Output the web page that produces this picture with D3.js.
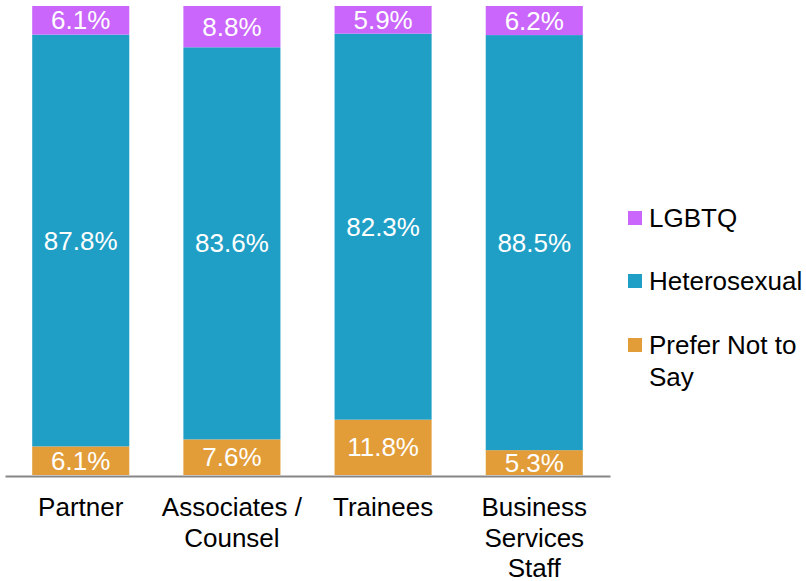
<!DOCTYPE html>
<html>
<head>
<meta charset="utf-8">
<script src="https://cdn.jsdelivr.net/npm/d3@7"></script>
<style>
    body { margin: 0; background: #fff; }
    svg { display: block; font-family: "Liberation Sans", Arial, sans-serif; }
</style>
</head>
<body>
<svg id="chart"></svg>
<script>
const categories = ['Partner', 'Associates /\nCounsel', 'Trainees', 'Business\nServices\nStaff'];
const series = ['Prefer Not to Say', 'Heterosexual', 'LGBTQ'];
const preferNot = [6.1, 7.6, 11.8, 5.3];
const heterosexual = [87.8, 83.6, 82.3, 88.5];
const lgbtq = [6.1, 8.8, 5.9, 6.2];
const legendLabels = ['LGBTQ', 'Heterosexual', 'Prefer Not to\nSay'];
const colors = { 'LGBTQ': '#ca66fc', 'Heterosexual': '#209fc6', 'Prefer Not to Say': '#e29c38' };

class StackedBars {

    constructor( config ) {
        this.config = {
            parent: config.parent,
            width: config.width || 806,
            height: config.height || 581,
            fontSize: config.fontSize || '26px'
        };
        this.data = categories.map( (c, i) => ({
            category: c,
            'Prefer Not to Say': preferNot[i],
            'Heterosexual': heterosexual[i],
            'LGBTQ': lgbtq[i]
        }) );
        this.init();
    }

    init() {
        let self = this;

        self.svg = d3.select( self.config.parent )
            .attr('width', self.config.width)
            .attr('height', self.config.height);

        self.xscale = d3.scaleBand()
            .domain( categories )
            .range( [5, 610] )
            .paddingInner( 0.358 )
            .paddingOuter( 0.18 );

        self.yscale = d3.scaleLinear()
            .domain( [0, 100] )
            .range( [475, 6] );

        self.stack = d3.stack().keys( series )( self.data );
    }

    render() {
        let self = this;
        const fs = self.config.fontSize;

        const layers = self.svg.append('g')
            .selectAll('g')
            .data( self.stack )
            .join('g')
            .attr('fill', d => colors[d.key]);

        layers.selectAll('rect')
            .data( d => d )
            .join('rect')
            .attr('x', d => self.xscale( d.data.category ))
            .attr('width', self.xscale.bandwidth())
            .attr('y', d => self.yscale( d[1] ))
            .attr('height', d => self.yscale( d[0] ) - self.yscale( d[1] ));

        layers.selectAll('text')
            .data( d => d.map( p => ({ p: p, v: p[1] - p[0] }) ) )
            .join('text')
            .attr('x', d => self.xscale( d.p.data.category ) + self.xscale.bandwidth() / 2)
            .attr('y', d => self.yscale( (d.p[0] + d.p[1]) / 2 ))
            .attr('dy', '0.35em')
            .attr('text-anchor', 'middle')
            .attr('fill', '#fff')
            .style('font-size', fs)
            .text( d => d.v.toFixed(1) + '%' );

        const xaxis = d3.axisBottom( self.xscale )
            .tickSize(0)
            .tickSizeOuter(0);

        const xaxis_group = self.svg.append('g')
            .attr('transform', 'translate(0, 476)')
            .call( xaxis );

        xaxis_group.select('.domain')
            .attr('stroke', '#868686')
            .attr('stroke-width', 2);

        xaxis_group.selectAll('.tick text')
            .attr('y', 40)
            .attr('dy', null)
            .attr('fill', '#000')
            .style('font-size', fs)
            .style('font-family', '"Liberation Sans", Arial, sans-serif')
            .each( function(d) {
                const t = d3.select(this);
                t.text(null);
                d.split('\n').forEach( (line, i) => {
                    t.append('tspan')
                        .attr('x', 0)
                        .attr('dy', i == 0 ? 0 : 30.5)
                        .text( line );
                });
            });

        const legend = self.svg.append('g')
            .attr('transform', 'translate(628, 0)');

        const legendY = [218, 281, 345];
        const legendKeys = ['LGBTQ', 'Heterosexual', 'Prefer Not to Say'];

        const item = legend.selectAll('g')
            .data( legendKeys )
            .join('g')
            .attr('transform', (d, i) => `translate(0, ${legendY[i]})`);

        item.append('rect')
            .attr('x', 0)
            .attr('y', -7)
            .attr('width', 14)
            .attr('height', 14)
            .attr('fill', d => colors[d]);

        item.append('text')
            .attr('y', 0)
            .style('font-size', fs)
            .attr('fill', '#000')
            .each( function(d, i) {
                const t = d3.select(this);
                legendLabels[i].split('\n').forEach( (line, j) => {
                    t.append('tspan')
                        .attr('x', 21)
                        .attr('dy', j == 0 ? '0.35em' : 32)
                        .text( line );
                });
            });
    }
}

const chart = new StackedBars( { parent: '#chart', width: 806, height: 581 } );
chart.render();
</script>
</body>
</html>
